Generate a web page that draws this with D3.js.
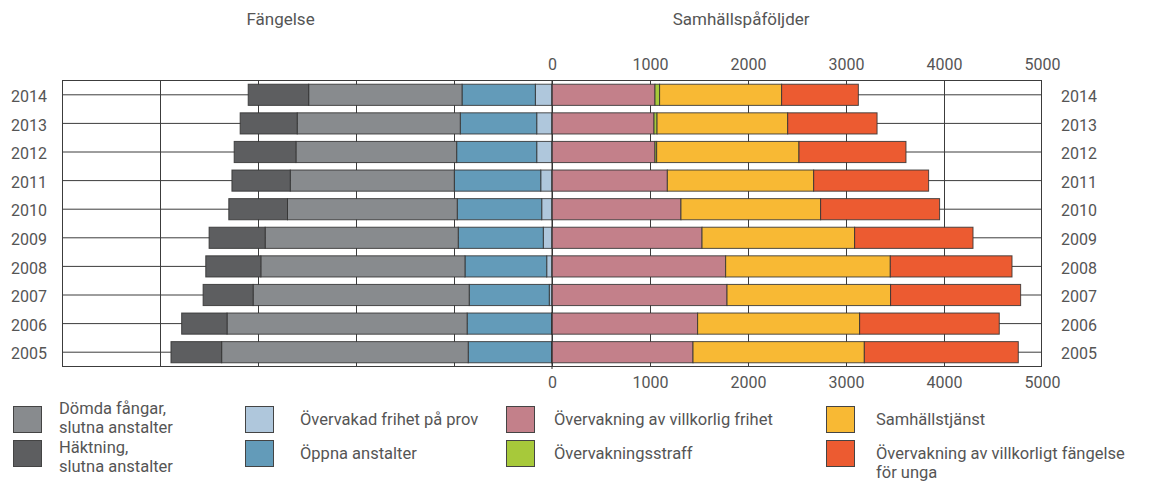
<!DOCTYPE html>
<html>
<head>
<meta charset="utf-8">
<script src="https://cdn.jsdelivr.net/npm/d3@7"></script>
<style>
    body { margin: 0; background: #fff; }
    text { font-family: Roboto, "Noto Sans", sans-serif; fill: #555; }
</style>
</head>
<body>
<div id="chart"></div>
<script>
// years, 2005 -> 2014 (same order as every series below)
const years = [2005, 2006, 2007, 2008, 2009, 2010, 2011, 2012, 2013, 2014];

// Fängelse (drawn to the left of 0), from 0 outwards
const frihetPaProv   = [5, 5, 28, 54, 89, 105, 115, 156, 156, 170];
const oppnaAnstalter = [850, 861, 817, 834, 868, 862, 882, 817, 780, 748];
const domdaFangar    = [2516, 2450, 2205, 2083, 1970, 1732, 1674, 1640, 1664, 1565];
const haktning       = [517, 463, 510, 562, 572, 599, 595, 630, 582, 617];

// Samhällspåföljder (drawn to the right of 0), from 0 outwards
const villkorligFrihet   = [1439, 1486, 1786, 1772, 1531, 1316, 1177, 1051, 1041, 1051];
const overvakningsstraff = [0, 0, 0, 0, 0, 0, 0, 17, 31, 47];
const samhallstjanst     = [1748, 1653, 1669, 1680, 1557, 1425, 1493, 1452, 1333, 1245];
const villkorligtUnga    = [1571, 1425, 1327, 1242, 1208, 1214, 1173, 1092, 912, 783];

// axis tick labels
const tickLabels = [0, 1000, 2000, 3000, 4000, 5000];

// series names and colours
const leftKeys  = ["prov", "oppna", "domda", "hakt"];
const rightKeys = ["villk", "straff", "samh", "unga"];
const colors = {
    domda: "#888b8e", hakt: "#5d5e60", prov: "#afc7dc", oppna: "#639bb9",
    villk: "#c3808a", straff: "#a7c93a", samh: "#f8b934", unga: "#ec5b31"
};
const legendItems = [
    { key: "domda",  lines: ["Dömda fångar,", "slutna anstalter"], col: 0, row: 0, two: true },
    { key: "hakt",   lines: ["Häktning,", "slutna anstalter"],     col: 0, row: 1, two: true },
    { key: "prov",   lines: ["Övervakad frihet på prov"],          col: 1, row: 0 },
    { key: "oppna",  lines: ["Öppna anstalter"],                   col: 1, row: 1 },
    { key: "villk",  lines: ["Övervakning av villkorlig frihet"],  col: 2, row: 0 },
    { key: "straff", lines: ["Övervakningsstraff"],                col: 2, row: 1 },
    { key: "samh",   lines: ["Samhällstjänst"],                    col: 3, row: 0 },
    { key: "unga",   lines: ["Övervakning av villkorligt fängelse", "för unga"], col: 3, row: 1 }
];

const width = 1152;
const height = 487;

// build one row per year for d3.stack
const rows = years.map((yr, i) => ({
    year: yr,
    prov: frihetPaProv[i], oppna: oppnaAnstalter[i], domda: domdaFangar[i], hakt: haktning[i],
    villk: villkorligFrihet[i], straff: overvakningsstraff[i], samh: samhallstjanst[i], unga: villkorligtUnga[i]
}));

const svg = d3.select("#chart")
    .append("svg")
        .attr("width", width)
        .attr("height", height);

const xScale = d3.scaleLinear()
    .domain([-5000, 5000])
    .range([62, 1042]);

const yScale = d3.scaleBand()
    .domain(years.slice().reverse())
    .range([80.5, 366.5])
    .paddingInner(0.26)
    .paddingOuter(0.13);

const yCenter = d => yScale(d) + yScale.bandwidth() / 2;

// grid lines, behind the bars
const grid = svg.append("g").attr("stroke", "#3c3c3c").attr("stroke-width", 1);

grid.selectAll("line.h")
    .data(years)
    .enter()
    .append("line")
        .attr("x1", xScale(-5000))
        .attr("x2", xScale(5000))
        .attr("y1", d => yCenter(d))
        .attr("y2", d => yCenter(d));

grid.selectAll("line.v")
    .data(d3.range(-4000, 5000, 1000))
    .enter()
    .append("line")
        .attr("x1", d => Math.round(xScale(d)) + 0.5)
        .attr("x2", d => Math.round(xScale(d)) + 0.5)
        .attr("y1", 80.5)
        .attr("y2", 366.5);

grid.append("rect")
    .attr("x", xScale(-5000) + 0.5)
    .attr("y", 80.5)
    .attr("width", xScale(5000) - xScale(-5000) - 1)
    .attr("height", 286)
    .attr("fill", "none");

// stacked bars, left side goes negative
const leftStack = d3.stack().keys(leftKeys)(rows);
const rightStack = d3.stack().keys(rightKeys)(rows);

function drawStack(stack, sign){
    svg.append("g")
        .selectAll("g")
        .data(stack)
        .enter()
        .append("g")
            .attr("fill", d => colors[d.key])
        .selectAll("rect")
        .data(d => d.filter(v => v[1] - v[0] > 0))
        .enter()
        .append("rect")
            .attr("x", d => Math.min(xScale(sign * d[0]), xScale(sign * d[1])))
            .attr("y", d => yScale(d.data.year))
            .attr("width", d => Math.abs(xScale(sign * d[1]) - xScale(sign * d[0])))
            .attr("height", yScale.bandwidth())
            .attr("stroke", "#333")
            .attr("stroke-opacity", 0.85)
            .attr("stroke-width", 1);
}
drawStack(leftStack, -1);
drawStack(rightStack, 1);

// zero line
svg.append("line")
    .attr("x1", xScale(0))
    .attr("x2", xScale(0))
    .attr("y1", 80.5)
    .attr("y2", 369)
    .attr("stroke", "#333");

// axes: numbers on the right half only, years on both sides
function styleAxis(g){
    g.select(".domain").remove();
    g.selectAll("text")
        .attr("font-family", "Roboto, sans-serif")
        .attr("font-size", 16)
        .attr("fill", "#555");
}

svg.append("g")
    .attr("transform", "translate(0,80.5)")
    .call(d3.axisTop(xScale).tickValues(tickLabels).tickSize(0).tickPadding(11).tickFormat(d3.format("d")))
    .call(styleAxis);

svg.append("g")
    .attr("transform", "translate(0,366.5)")
    .call(d3.axisBottom(xScale).tickValues(tickLabels).tickSize(0).tickPadding(10).tickFormat(d3.format("d")))
    .call(styleAxis);

svg.append("g")
    .attr("transform", "translate(62,0)")
    .call(d3.axisLeft(yScale).tickSize(0).tickPadding(15))
    .call(styleAxis)
    .selectAll("text").attr("dy", "0.45em");

svg.append("g")
    .attr("transform", "translate(1042,0)")
    .call(d3.axisRight(yScale).tickSize(0).tickPadding(19))
    .call(styleAxis)
    .selectAll("text").attr("dy", "0.45em");

// panel titles
svg.append("text")
    .attr("x", xScale(-2770))
    .attr("y", 25)
    .attr("text-anchor", "middle")
    .attr("font-size", "17px")
    .text("Fängelse");

svg.append("text")
    .attr("x", xScale(1930))
    .attr("y", 25)
    .attr("text-anchor", "middle")
    .attr("font-size", "17px")
    .text("Samhällspåföljder");

// legend
const colSwatch = [13, 245, 506, 826];
const colText = [59, 300, 554, 876];
const rowY = [406, 440];

const legend = svg.append("g");
legendItems.forEach(item => {
    const y0 = rowY[item.row];
    legend.append("rect")
        .attr("x", colSwatch[item.col] + 0.5)
        .attr("y", y0 + 0.5)
        .attr("width", 28)
        .attr("height", 26)
        .attr("fill", colors[item.key])
        .attr("stroke", "#444");
    const t = legend.append("text")
        .attr("font-size", "16.5px");
    item.lines.forEach((line, i) => {
        // two-line labels in the first column sit around the swatch,
        // the others start level with the swatch centre
        const base = item.two ? y0 + (item.row === 0 ? 8 : 13) : y0 + 19;
        t.append("tspan")
            .attr("x", colText[item.col])
            .attr("y", base + i * 19)
            .text(line);
    });
});
</script>
</body>
</html>
